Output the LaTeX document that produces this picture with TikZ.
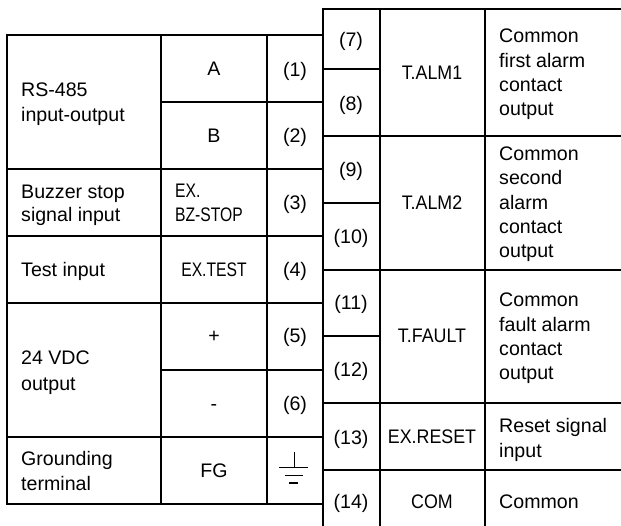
\documentclass[tikz,border=0pt]{standalone}
\usepackage{fontspec}
\setmainfont{Liberation Sans}
\newfontfamily\narrowfont[FakeStretch=0.8]{Liberation Sans}
\newfontfamily\slimfont[FakeStretch=0.91]{Liberation Sans}
\tikzstyle{rule} = [line width=1.5pt]
\tikzstyle{cell} = [inner sep=0pt, anchor=base, font=\fontsize{19.6}{24.5}\selectfont]
\tikzstyle{desc} = [cell, anchor=base west, align=left]
\tikzstyle{code} = [cell, font=\fontsize{19.6}{24.5}\selectfont\narrowfont]
\tikzstyle{slim} = [cell, font=\fontsize{19.6}{24.5}\selectfont\slimfont]

\begin{document}
\begin{tikzpicture}[x=1pt, y=-1pt]
    \useasboundingbox (0, 0) rectangle (621, 526);

    % Left table
    \draw[rule] (7, 35) rectangle (323, 504);
    \draw[rule] (161, 35) -- (161, 504);
    \draw[rule] (267, 35) -- (267, 504);
    \draw[rule] (161, 102) -- (323, 102);
    \draw[rule] (7, 169) -- (323, 169);
    \draw[rule] (7, 236) -- (323, 236);
    \draw[rule] (7, 303) -- (323, 303);
    \draw[rule] (161, 370) -- (323, 370);
    \draw[rule] (7, 437) -- (323, 437);

    % Right table
    \draw[rule] (621, 9) -- (323, 9) -- (323, 526);
    \draw[rule] (380, 9) -- (380, 526);
    \draw[rule] (485, 9) -- (485, 526);
    \draw[rule] (323, 69) -- (380, 69);
    \draw[rule] (323, 136) -- (621, 136);
    \draw[rule] (323, 203) -- (380, 203);
    \draw[rule] (323, 270) -- (621, 270);
    \draw[rule] (323, 336) -- (380, 336);
    \draw[rule] (323, 403) -- (621, 403);
    \draw[rule] (323, 470) -- (621, 470);

    % Left descriptions
    \node[desc] (rs) at (21, 97) {RS-485};
    \node[desc] (rsio) at (21, 122) {input-output};
    \node[desc] (buzzer) at (21, 199) {Buzzer stop};
    \node[desc] (buzzerin) at (21, 222) {signal input};
    \node[desc] (test) at (21, 277) {Test input};
    \node[desc] (vdc) at (21, 365) {24 VDC};
    \node[desc] (vdcout) at (21, 390) {output};
    \node[desc] (gnd) at (21, 465) {Grounding};
    \node[desc] (gndterm) at (21, 490) {terminal};

    % Left signal names
    \node[cell] (A) at (214, 76) {A};
    \node[cell] (B) at (214, 143) {B};
    \node[code, anchor=base west] (ex) at (175, 198) {EX.};
    \node[code, anchor=base west] (bz) at (175, 222) {BZ-STOP};
    \node[code] (extest) at (214, 277) {EX.TEST};
    \node[cell] (plus) at (214, 343) {+};
    \node[cell] (minus) at (214, 410) {-};
    \node[cell] (FG) at (214, 477) {FG};

    % Left terminals
    \node[cell] (t1) at (295, 77) {(1)};
    \node[cell] (t2) at (295, 143) {(2)};
    \node[cell] (t3) at (295, 210) {(3)};
    \node[cell] (t4) at (295, 277) {(4)};
    \node[cell] (t5) at (295, 343) {(5)};
    \node[cell] (t6) at (295, 410) {(6)};

    % Ground symbol
    \draw[rule] (294.5, 452) -- (294.5, 467.5);
    \draw[rule] (279, 467.5) -- (308, 467.5);
    \draw[line width=1pt] (285, 475) -- (303, 475);
    \draw[rule] (289, 483) -- (298, 483);

    % Right terminals
    \node[cell] (t7) at (351, 47) {(7)};
    \node[cell] (t8) at (351, 111) {(8)};
    \node[cell] (t9) at (351, 177) {(9)};
    \node[cell] (t10) at (351, 244) {(10)};
    \node[cell] (t11) at (351, 310) {(11)};
    \node[cell] (t12) at (351, 377) {(12)};
    \node[cell] (t13) at (351, 444) {(13)};
    \node[cell] (t14) at (351, 508) {(14)};

    % Right signal names
    \node[slim] (alma) at (432, 80) {T.ALM1};
    \node[slim] (almb) at (432, 210) {T.ALM2};
    \node[slim] (fault) at (432, 343) {T.FAULT};
    \node[slim] (reset) at (432, 443) {EX.RESET};
    \node[slim] (com) at (432, 508) {COM};

    % Right descriptions
    \node[desc] (a1) at (499, 43) {Common};
    \node[desc] (a2) at (499, 68) {first alarm};
    \node[desc] (a3) at (499, 92) {contact};
    \node[desc] (a4) at (499, 116) {output};
    \node[desc] (b1) at (499, 161) {Common};
    \node[desc] (b2) at (499, 185) {second};
    \node[desc] (b3) at (499, 210) {alarm};
    \node[desc] (b4) at (499, 234) {contact};
    \node[desc] (b5) at (499, 258) {output};
    \node[desc] (c1) at (499, 307) {Common};
    \node[desc] (c2) at (499, 332) {fault alarm};
    \node[desc] (c3) at (499, 356) {contact};
    \node[desc] (c4) at (499, 380) {output};
    \node[desc] (d1) at (499, 432) {Reset signal};
    \node[desc] (d2) at (499, 457) {input};
    \node[desc] (e1) at (499, 508) {Common};
\end{tikzpicture}
\end{document}
